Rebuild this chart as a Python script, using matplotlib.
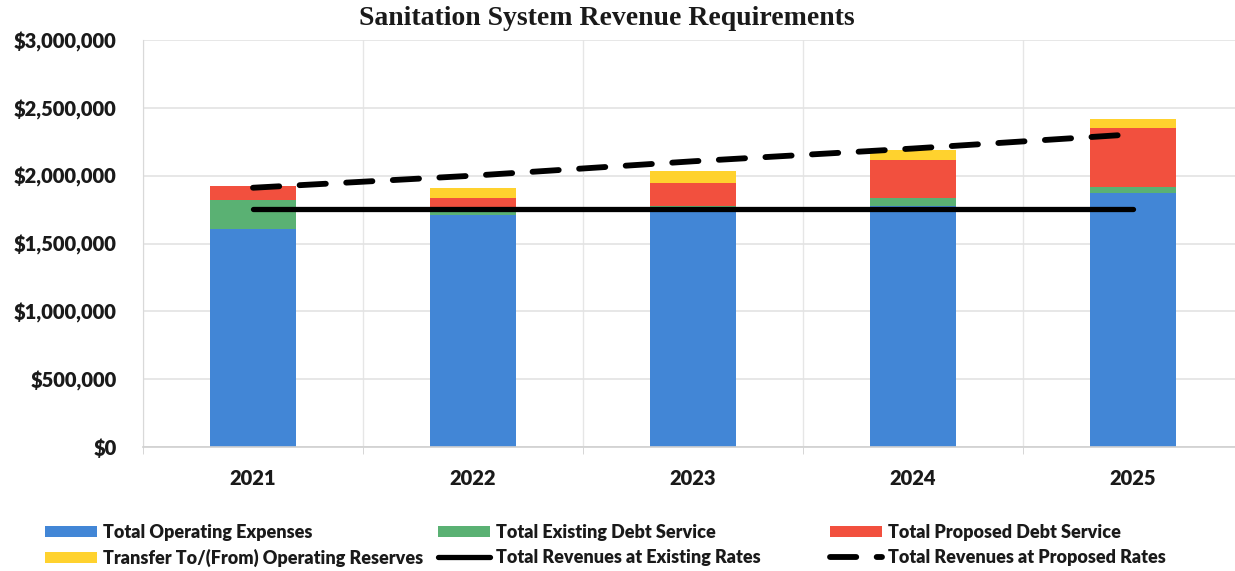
import matplotlib
matplotlib.use("Agg")
import matplotlib.pyplot as plt
import numpy as np

years = ["2021", "2022", "2023", "2024", "2025"]
operating_expenses = [1610000, 1710000, 1730000, 1780000, 1875000]
existing_debt = [208000, 38000, 45000, 52000, 45000]
proposed_debt = [104000, 90000, 170000, 285000, 433000]
transfer_reserves = [0, 74000, 86000, 69000, 62000]
revenue_existing = [1755000, 1755000, 1755000, 1755000, 1755000]
revenue_proposed = [1911000, 2000000, 2106000, 2200000, 2305000]

y_ticks = [0, 500000, 1000000, 1500000, 2000000, 2500000, 3000000]

blue = "#4286d6"
green = "#5ab173"
red = "#f2503e"
yellow = "#ffd22e"

fig = plt.figure(figsize=(12.35, 5.71), dpi=100)
ax = fig.add_axes([143 / 1235, 124 / 571, 1100 / 1235, 407 / 571])

x = np.arange(len(years))
w = 0.395
b1 = np.array(operating_expenses)
b2 = b1 + np.array(existing_debt)
b3 = b2 + np.array(proposed_debt)

h_op = ax.bar(x, operating_expenses, w, color=blue, zorder=2)
h_ex = ax.bar(x, existing_debt, w, bottom=b1, color=green, zorder=2)
h_pr = ax.bar(x, proposed_debt, w, bottom=b2, color=red, zorder=2)
h_tr = ax.bar(x, transfer_reserves, w, bottom=b3, color=yellow, zorder=2)

l_ex, = ax.plot(x, revenue_existing, color="black", lw=3.8, solid_capstyle="round", zorder=3)
l_pr, = ax.plot(x, revenue_proposed, color="black", lw=4.2, dashes=(4.5, 3.5),
                dash_capstyle="round", zorder=3)

ax.set_xlim(-0.5, 4.5)
ax.set_ylim(0, 3000000)
ax.set_yticks(y_ticks)
ax.set_yticklabels([f"${v:,.0f}" for v in y_ticks])
ax.set_xticks(x)
ax.set_xticklabels(years)
ax.set_xticks(np.arange(-0.5, 5.0, 1.0), minor=True)

ax.grid(axis="y", color="#e3e3e3", lw=1.2, zorder=0)
ax.grid(axis="x", which="minor", color="#e6e6e6", lw=1.0, zorder=0)
for s in ["top", "right"]:
    ax.spines[s].set_visible(False)
ax.spines["left"].set_color("#d9d9d9")
ax.spines["bottom"].set_color("#d0d0d0")
ax.spines["bottom"].set_linewidth(1.2)
ax.tick_params(axis="both", which="major", length=0)
ax.tick_params(axis="x", which="minor", length=5, color="#d0d0d0")
ax.tick_params(axis="y", pad=19)
ax.tick_params(axis="x", pad=16)

for lab in ax.get_yticklabels() + ax.get_xticklabels():
    lab.set_fontfamily("Lato")
    lab.set_fontweight("heavy")
    lab.set_fontsize(14.5)
    lab.set_color("#1a1a1a")

fig.text(607 / 1235, 0.967, "Sanitation System Revenue Requirements", ha="center", va="center",
         fontfamily="Liberation Serif", fontweight="bold", fontsize=20, color="#1a1a1a")

leg_font = {"family": "Lato", "weight": "heavy", "size": 13}
groups = [
    ([h_op, h_tr], ["Total Operating Expenses", "Transfer To/(From) Operating Reserves"], 45),
    ([h_ex, l_ex], ["Total Existing Debt Service", "Total Revenues at Existing Rates"], 438),
    ([h_pr, l_pr], ["Total Proposed Debt Service", "Total Revenues at Proposed Rates"], 830),
]
for handles, labels, px in groups:
    leg = fig.legend(handles, labels, loc="upper left", bbox_to_anchor=(px / 1235, 1 - 524 / 571),
                     frameon=False, prop=leg_font, handlelength=2.9, handleheight=0.55,
                     handletextpad=0.3, labelspacing=0.45, borderpad=0, borderaxespad=0)
    for t in leg.get_texts():
        t.set_color("#1a1a1a")

fig.savefig("out.png", dpi=100, facecolor="white")
